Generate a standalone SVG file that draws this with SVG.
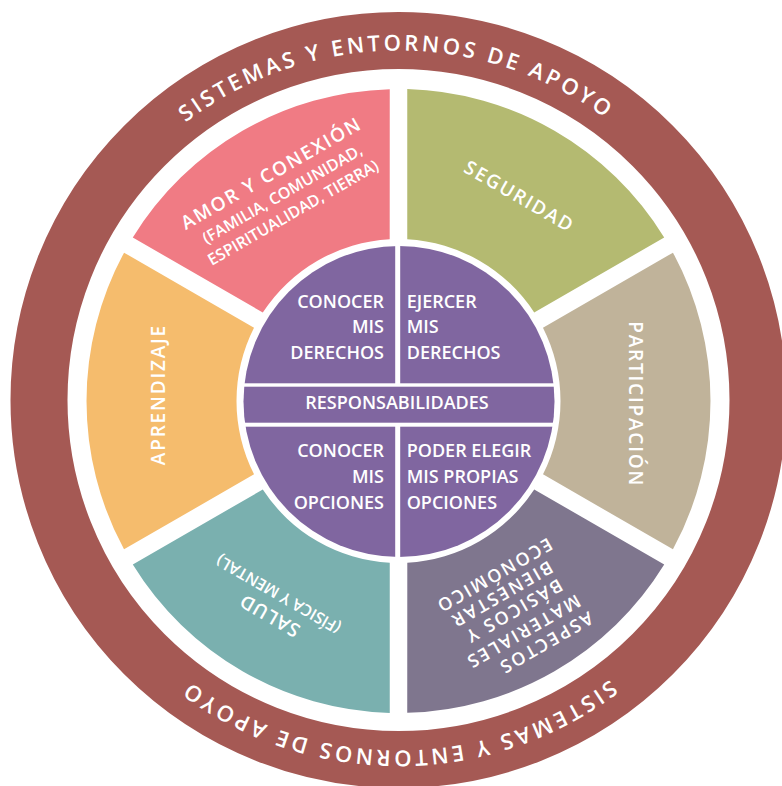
<svg xmlns="http://www.w3.org/2000/svg" width="782" height="786" viewBox="0 0 782 786">
<defs>
<style>
.lbl{font-family:"Open Sans","Liberation Sans",sans-serif;font-weight:600;fill:#fff}
.ring{font-size:22px;letter-spacing:3.2px}
.seg{font-size:19px;letter-spacing:1.8px}
.sub{font-size:16px;letter-spacing:0px}
.core{font-size:18px}
</style>
<path id="ringPath" d="M 48.5,400.5 A 350 350 0 1 1 748.5,400.5 A 350 350 0 1 1 48.5,400.5"/>
<clipPath id="coreClip"><circle cx="399" cy="401.5" r="155.5"/></clipPath>
</defs>
<rect width="782" height="786" fill="#fff"/>

<g id="ring-sistemas">
<circle cx="398.5" cy="400" r="359.5" fill="none" stroke="#a55954" stroke-width="57"/>
<text class="lbl ring" text-anchor="middle"><textPath href="#ringPath" startOffset="547">SISTEMAS Y ENTORNOS DE APOYO</textPath></text>
<text class="lbl ring" text-anchor="middle"><textPath href="#ringPath" startOffset="1648">SISTEMAS Y ENTORNOS DE APOYO</textPath></text>
</g>

<g id="seguridad">
<path fill="#b4ba71" d="M 664.2,237.5 A 312 312 0 0 0 407.25,89.12 L 407.25,239.24 A 162 162 0 0 1 534.2,312.5 Z"/>
<text class="lbl seg" text-anchor="middle" transform="translate(518.7,195.8) rotate(30)" x="0.9" y="6.8">SEGURIDAD</text>
</g>

<g id="participacion">
<path fill="#c0b39a" transform="rotate(60 398.5 401)" d="M 664.2,237.5 A 312 312 0 0 0 407.25,89.12 L 407.25,239.24 A 162 162 0 0 1 534.2,312.5 Z"/>
<text class="lbl seg" text-anchor="middle" transform="translate(636,403.3) rotate(90)" x="0.9" y="6.8">PARTICIPACIÓN</text>
</g>

<g id="aspectos">
<path fill="#7f768e" transform="rotate(120 398.5 401)" d="M 664.2,237.5 A 312 312 0 0 0 407.25,89.12 L 407.25,239.24 A 162 162 0 0 1 534.2,312.5 Z"/>
<g transform="translate(546.7,642.5) rotate(150)">
<text class="lbl seg" text-anchor="middle" style="font-size:18px;letter-spacing:2.2px" x="1" y="6.4">ASPECTOS</text>
<text class="lbl seg" text-anchor="middle" style="font-size:18px;letter-spacing:2.2px" x="15" y="27.4">MATERIALES</text>
<text class="lbl seg" text-anchor="middle" style="font-size:18px;letter-spacing:2.2px" x="13" y="50.1">BÁSICOS Y</text>
<text class="lbl seg" text-anchor="middle" style="font-size:18px;letter-spacing:2.2px" x="15" y="70.5">BIENESTAR</text>
<text class="lbl seg" text-anchor="middle" style="font-size:18px;letter-spacing:2.2px" x="12" y="90.7">ECONÓMICO</text>
</g>
</g>

<g id="salud">
<path fill="#7ab0af" transform="rotate(180 398.5 401)" d="M 664.2,237.5 A 312 312 0 0 0 407.25,89.12 L 407.25,239.24 A 162 162 0 0 1 534.2,312.5 Z"/>
<g transform="translate(278.3,594.3) rotate(210)">
<text class="lbl seg" text-anchor="middle" style="letter-spacing:1px" x="-3" y="-16.2">SALUD</text>
<text class="lbl sub" text-anchor="middle" x="0" y="5.7">(FÍSICA Y MENTAL)</text>
</g>
</g>

<g id="aprendizaje">
<path fill="#f5bc6d" transform="rotate(240 398.5 401)" d="M 664.2,237.5 A 312 312 0 0 0 407.25,89.12 L 407.25,239.24 A 162 162 0 0 1 534.2,312.5 Z"/>
<text class="lbl seg" text-anchor="middle" transform="translate(158,395.5) rotate(-90)" x="0.9" y="6.8">APRENDIZAJE</text>
</g>

<g id="amor">
<path fill="#f07b84" transform="rotate(300 398.5 401)" d="M 664.2,237.5 A 312 312 0 0 0 407.25,89.12 L 407.25,239.24 A 162 162 0 0 1 534.2,312.5 Z"/>
<g transform="translate(270.5,173.5) rotate(-30)">
<text class="lbl seg" text-anchor="middle" x="0.9" y="6.8">AMOR Y CONEXIÓN</text>
<text class="lbl sub" text-anchor="middle" x="0" y="29.2">(FAMILIA, COMUNIDAD,</text>
<text class="lbl sub" text-anchor="middle" x="0" y="50.7">ESPIRITUALIDAD, TIERRA)</text>
</g>
</g>

<g clip-path="url(#coreClip)">
<g id="conocer-derechos">
<rect x="240" y="240" width="155.2" height="143.3" fill="#8066a0"/>
<text class="lbl core" text-anchor="end"><tspan x="384" y="307.7">CONOCER</tspan><tspan x="384" y="333.3">MIS</tspan><tspan x="384" y="359.3">DERECHOS</tspan></text>
</g>
<g id="ejercer-derechos">
<rect x="400.2" y="240" width="160" height="143.3" fill="#8066a0"/>
<text class="lbl core" text-anchor="start"><tspan x="406.7" y="307.7">EJERCER</tspan><tspan x="406.7" y="333.3">MIS</tspan><tspan x="406.7" y="359.3">DERECHOS</tspan></text>
</g>
<g id="responsabilidades">
<rect x="240" y="386.7" width="320" height="36" fill="#8066a0"/>
<text class="lbl core" text-anchor="middle" x="397" y="409.3">RESPONSABILIDADES</text>
</g>
<g id="conocer-opciones">
<rect x="240" y="426.7" width="155.2" height="135" fill="#8066a0"/>
<text class="lbl core" text-anchor="end"><tspan x="384" y="456.7">CONOCER</tspan><tspan x="384" y="482.7">MIS</tspan><tspan x="384" y="508.7">OPCIONES</tspan></text>
</g>
<g id="poder-elegir">
<rect x="400.2" y="426.7" width="160" height="135" fill="#8066a0"/>
<text class="lbl core" text-anchor="start"><tspan x="406.7" y="456.7">PODER ELEGIR</tspan><tspan x="406.7" y="482.7">MIS PROPIAS</tspan><tspan x="406.7" y="508.7">OPCIONES</tspan></text>
</g>
</g>
</svg>
